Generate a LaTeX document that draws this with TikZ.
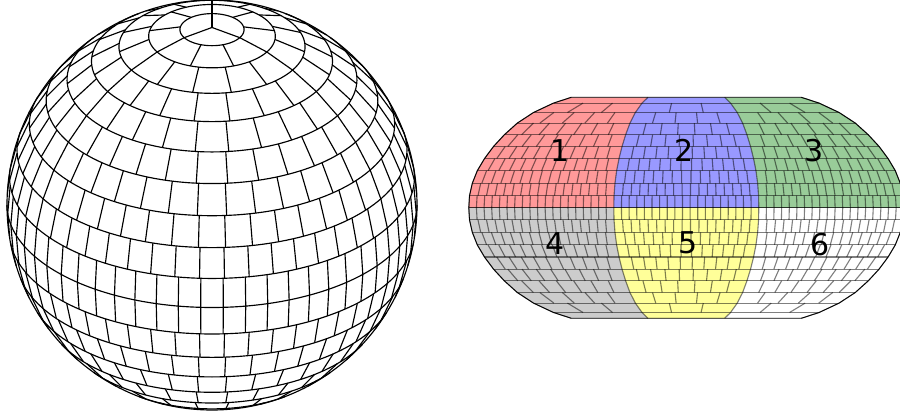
\documentclass[tikz,border=0pt]{standalone}
\usepackage{xcolor}
\usepackage{fontspec}
\setmainfont{DejaVu Sans}
\definecolor{regionred}{RGB}{255, 153, 153}
\definecolor{regionblue}{RGB}{153, 153, 255}
\definecolor{regiongreen}{RGB}{153, 204, 153}
\definecolor{regiongray}{RGB}{204, 204, 204}
\definecolor{regionyellow}{RGB}{255, 255, 153}
\tikzset{
    gridline/.style={line width=1.15pt, black},
    mapline/.style={line width=1.1pt, black, opacity=0.5},
    mapedge/.style={line width=0.8pt, black},
    regionlabel/.style={font=\fontsize{30}{30}\selectfont, inner sep=0pt},
}
\def\mapcx{686.3}
\def\mapcy{207.8}
\def\hwlist{{115,132.8,152.8,169,182,192.8,201.8,209,214,216.8,217.5}}
\def\rowlist{{110.5,104.7,95.3,84.7,73,61.3,49.2,37.1,24.5,12.1,0}}
\newcommand{\regionfill}[4]{
    \fill[#1] ({\mapcx+#2*115},{\mapcy-#4*110.5})
        \foreach \r in {1,...,10} { -- ({\mapcx+#2*\hwlist[\r]},{\mapcy-#4*\rowlist[\r]}) }
        \foreach \r in {10,...,0} { -- ({\mapcx+#3*\hwlist[\r]},{\mapcy-#4*\rowlist[\r]}) }
        -- cycle;
}
\begin{document}
\begin{tikzpicture}[x=1pt, y=-1pt,
    declare function={
        spx(\la,\lo)=212+205*cos(\la)*sin(\lo);
        spy(\la,\lo)=205-205*(sin(\la)*cos(30)-cos(\la)*cos(\lo)*sin(30));
    }]
    \useasboundingbox (0,0) rectangle (900,417);
    \clip (0,0) rectangle (900,417);

    % sphere
    \foreach \la in {81,72,...,-54} {
        \pgfmathsetmacro{\lonmax}{acos(max(min(-tan(\la)*tan(30),1),-1))}
        \draw[gridline] plot[domain=-\lonmax:\lonmax, samples=91] ({spx(\la,\x)},{spy(\la,\x)});
    }
    \foreach \k in {1,...,10} {
        \pgfmathtruncatemacro{\ncell}{3*(2*\k-1)}
        \pgfmathtruncatemacro{\ilast}{\ncell-1}
        \foreach \i in {0,...,\ilast} {
            \pgfmathsetmacro{\lon}{(2*\i+1)/\ncell*180}
            \pgfmathsetmacro{\limb}{atan(-cos(\lon)*1.73205)}
            \pgfmathsetmacro{\lattop}{90-9*(\k-1)}
            \pgfmathsetmacro{\latbot}{max(90-9*\k,\limb)}
            \ifdim\lattop pt>\latbot pt
                \draw[gridline] ({spx(\lattop,\lon)},{spy(\lattop,\lon)}) -- ({spx(\latbot,\lon)},{spy(\latbot,\lon)});
            \fi
            \pgfmathsetmacro{\lattop}{-(90-9*\k)}
            \pgfmathsetmacro{\latbot}{max(-(90-9*(\k-1)),\limb)}
            \ifdim\lattop pt>\latbot pt
                \draw[gridline] ({spx(\lattop,\lon)},{spy(\lattop,\lon)}) -- ({spx(\latbot,\lon)},{spy(\latbot,\lon)});
            \fi
        }
    }
    \draw[gridline] (212,205) circle[radius=205];

    % flat map
    \regionfill{regionred}{-1}{-0.3333}{1}
    \regionfill{regionblue}{-0.3333}{0.3333}{1}
    \regionfill{regiongreen}{0.3333}{1}{1}
    \regionfill{regiongray}{-1}{-0.3333}{-1}
    \regionfill{regionyellow}{-0.3333}{0.3333}{-1}
    \regionfill{white}{0.3333}{1}{-1}

    \foreach \r in {1,...,10} {
        \draw[mapline] ({\mapcx-\hwlist[\r]},{\mapcy-\rowlist[\r]}) -- ({\mapcx+\hwlist[\r]},{\mapcy-\rowlist[\r]});
        \draw[mapline] ({\mapcx-\hwlist[\r]},{\mapcy+\rowlist[\r]}) -- ({\mapcx+\hwlist[\r]},{\mapcy+\rowlist[\r]});
    }
    \foreach \k in {1,...,10} {
        \pgfmathtruncatemacro{\ncell}{3*(2*\k-1)}
        \pgfmathtruncatemacro{\rowa}{\k-1}
        \foreach \i in {0,...,\ncell} {
            \pgfmathsetmacro{\fr}{-1+2*\i/\ncell}
            \pgfmathsetmacro{\xa}{\mapcx+\fr*\hwlist[\rowa]}
            \pgfmathsetmacro{\xb}{\mapcx+\fr*\hwlist[\k]}
            \pgfmathsetmacro{\ya}{\rowlist[\rowa]}
            \pgfmathsetmacro{\yb}{\rowlist[\k]}
            \draw[mapline] (\xa,\mapcy-\ya) -- (\xb,\mapcy-\yb);
            \draw[mapline] (\xa,\mapcy+\ya) -- (\xb,\mapcy+\yb);
        }
    }
    \draw[mapedge] ({\mapcx-115},{\mapcy-110.5})
        \foreach \r in {1,...,10} { -- ({\mapcx-\hwlist[\r]},{\mapcy-\rowlist[\r]}) }
        \foreach \r in {9,...,0} { -- ({\mapcx-\hwlist[\r]},{\mapcy+\rowlist[\r]}) }
        \foreach \r in {0,...,10} { -- ({\mapcx+\hwlist[\r]},{\mapcy+\rowlist[\r]}) }
        \foreach \r in {9,...,0} { -- ({\mapcx+\hwlist[\r]},{\mapcy-\rowlist[\r]}) }
        -- cycle;

    \node[regionlabel] (labelone) at (560,151) {1};
    \node[regionlabel] (labeltwo) at (684,150) {2};
    \node[regionlabel] (labelthree) at (814,151) {3};
    \node[regionlabel] (labelfour) at (555,244) {4};
    \node[regionlabel] (labelfive) at (688,243) {5};
    \node[regionlabel] (labelsix) at (820,245) {6};
\end{tikzpicture}
\end{document}
